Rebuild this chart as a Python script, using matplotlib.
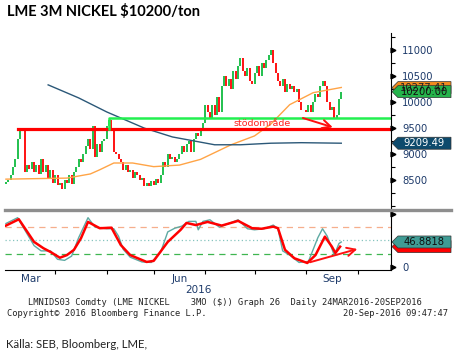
import matplotlib
matplotlib.use('Agg')
import matplotlib.pyplot as plt
from matplotlib.patches import Polygon
from matplotlib.lines import Line2D
from matplotlib.transforms import IdentityTransform

# LME 3M nickel, daily closes (trading days, 1 Mar 2016 .. 20 Sep 2016)
first_open = 8420
closes = [8470, 8500, 8600, 8750, 8900, 9300, 9480, 9450, 8650, 8800,
          8720, 8850, 8650, 8800, 8620, 8900, 8650, 8800, 8550, 8700,
          8450, 8600, 8400, 8450, 8330, 8500, 8450, 8600, 8420, 8650,
          8750, 8900, 8850, 9000, 9150, 9300, 9100, 9550, 8950, 9200,
          9050, 9250, 9300, 9550, 9650, 9500, 9050, 9000, 8900, 8850,
          8700, 8800, 8650, 8700, 8550, 8650, 8600, 8500, 8550, 8380,
          8450, 8380, 8480, 8400, 8520, 8450, 8600, 8850, 8750, 9000,
          8900, 8950, 8850, 8900, 9000, 9150, 9050, 9200, 9250, 9050,
          9300, 9400, 9350, 9500, 9600, 9950, 9800, 9700, 9950, 9750,
          10100, 9800, 10300, 10500, 10300, 10450, 10250, 10600, 10450, 10700,
          10850, 10600, 10500, 10650, 10400, 10350, 10550, 10700, 10500, 10750,
          10650, 10800, 10900, 11000, 10750, 10550, 10400, 10300, 10450, 10200,
          10350, 10250, 10300, 10200, 10250, 10000, 9850, 9850, 9800, 9950,
          9800, 10000, 10150, 10100, 10300, 10400, 10300, 10000, 9850, 9900,
          9700, 9750, 10050, 10200]

# moving averages
ma100_idx = [0, 26, 36, 40, 46, 54, 63, 74, 83, 96, 106, 113, 121, 131, 143]
ma100_val = [8520, 8540, 8620, 8700, 8830, 8830, 8760, 8790, 8900, 9180,
             9350, 9580, 9950, 10180, 10280]
ma200_idx = [18, 31, 43, 59, 71, 83, 89, 100, 113, 126, 143]
ma200_val = [10330, 10080, 9810, 9500, 9330, 9230, 9180, 9180, 9210, 9220, 9210]

# stochastics (lower panel)
slow_idx = [0, 5.5, 12, 16, 19, 23, 26, 29, 32, 35, 40, 45, 49, 53, 60, 63,
            69, 74.5, 77, 81, 86, 92, 99, 105, 109, 114, 116, 119, 123,
            128.5, 132, 136, 139, 140.5, 142.5]
slow_val = [78, 90, 47, 35, 28, 17, 22, 32, 54, 85, 73, 74, 41, 22, 9, 11,
            47, 70, 83, 79, 85, 78, 87, 73, 72, 76, 73, 32, 16,
            7, 22, 57, 38, 26, 38]
fast_idx = [0, 5, 8, 12, 15, 19, 22, 25, 28, 31, 35, 38, 43, 46, 48, 50, 53,
            58, 62, 66, 69, 72, 75, 78, 81, 82, 84, 87, 91, 95, 99, 103, 106,
            110, 114, 116, 118, 121, 125, 129, 133, 135, 137, 140, 142, 143]
fast_val = [82, 93, 70, 40, 30, 30, 14, 12, 20, 55, 93, 75, 72, 72, 58, 33, 18,
            9, 8, 28, 66, 73, 77, 86, 86, 70, 86, 89, 75, 82, 89, 72, 70,
            72, 79, 72, 30, 22, 8, 10, 55, 72, 58, 22, 44, 46.88]

month_starts = [21, 43, 63, 85, 106, 128, 150]
month_labels = ['Mar', 'Jun', 'Sep']
month_label_idx = [10.5, 74, 139]

red_support = 9480
green_support = 9690
price_ticks = [8500, 9000, 9500, 10000, 10500, 11000]
minor_ticks = [8000, 8250, 8750, 9250, 9750, 10250, 10750, 11250]

last_price = 10200.00
last_ma100 = 10277.41
last_ma200 = 9209.49
last_fast = 46.8818
last_slow = 38.10

W, H = 461, 358
fig = plt.figure(figsize=(W / 100, H / 100), dpi=100)


def fx(x):
    return x / W


def fy(y):
    return 1 - y / H


ax = fig.add_axes([fx(5), fy(208), fx(391) - fx(5), fy(33) - fy(208)])
ax2 = fig.add_axes([fx(5), fy(270), fx(391) - fx(5), fy(211) - fy(270)])

xmin, xmax = -0.4, 164.2
up_col, dn_col = '#10bb40', '#ff0000'

# price bars
prev = first_open
for i, c in enumerate(closes):
    col = up_col if c >= prev else dn_col
    ax.vlines(i, min(prev, c), max(prev, c), color=col, lw=1.3)
    prev = c

ax.plot(ma100_idx, ma100_val, color='#ffa446', lw=1.0)
ax.plot(ma200_idx, ma200_val, color='#2b5878', lw=1.0)

ax.plot([5, xmax], [red_support, red_support], color='#ff0000', lw=2.3)
ax.plot([44, 44, xmax], [red_support, green_support, green_support],
        color='#22f050', lw=1.8)
ax.text(97, red_support + 15, 'stödområde', color='#ff2020', fontsize=6.8,
        va='bottom', ha='left')
ax.annotate('', xy=(140.5, 9500), xytext=(125.5, 9710),
            arrowprops=dict(arrowstyle='->,head_length=0.6,head_width=0.3',
                            color='#ff1010', lw=1.4))

ax.set_xlim(xmin, xmax)
ax.set_ylim(7966, 11326)
ax.set_xticks([])
for s in ['left', 'top', 'bottom']:
    ax.spines[s].set_visible(False)
ax.spines['right'].set_linewidth(0.8)
ax.yaxis.tick_right()
ax.set_yticks(price_ticks)
ax.set_yticks(minor_ticks, minor=True)
ax.tick_params(axis='y', which='major', length=0, pad=8, labelsize=7.2,
               labelcolor='#1d3a6a')
ax.tick_params(axis='y', which='minor', length=3, width=0.8)
ax.plot([1.006] * len(price_ticks), price_ticks, ls='none', marker='>',
        ms=3.5, color='black', transform=ax.get_yaxis_transform(),
        clip_on=False)

# stochastics panel
ax2.axhline(75, color='#f6ae8c', lw=0.9, dashes=(5, 4))
ax2.axhline(50, color='#86c4bf', lw=0.9, dashes=(1, 2))
ax2.axhline(25, color='#3fb650', lw=0.9, dashes=(5, 4))
ax2.plot(fast_idx, fast_val, color='#5eaaa3', lw=1.0)
ax2.plot(slow_idx, slow_val, color='#ff0000', lw=1.8)
ax2.annotate('', xy=(151, 35), xytext=(128.5, 7),
             arrowprops=dict(arrowstyle='->,head_length=0.6,head_width=0.3',
                             color='#ff1010', lw=1.4))
ax2.set_xlim(xmin, xmax)
ax2.set_ylim(-6.3, 105.7)
ax2.spines['left'].set_visible(False)
ax2.spines['top'].set_visible(False)
ax2.spines['right'].set_linewidth(0.8)
ax2.spines['bottom'].set_linewidth(0.8)
ax2.set_xticks(month_starts)
ax2.set_xticklabels([])
ax2.tick_params(axis='x', length=3, width=0.8)
ax2.yaxis.tick_right()
ax2.set_yticks([0, 100])
ax2.set_yticklabels(['0', ''])
ax2.tick_params(axis='y', length=0, pad=8, labelsize=7.2, labelcolor='#1d3a6a')
ax2.plot([1.006, 1.006], [0, 100], ls='none', marker='>', ms=3.5,
         color='black', transform=ax2.get_yaxis_transform(), clip_on=False)
for lab, pos in zip(month_labels, month_label_idx):
    ax2.text(pos, -0.15, lab, transform=ax2.get_xaxis_transform(),
             ha='center', va='center', fontsize=7.5, color='#1d3a6a')
ax2.text(82, -0.34, '2016', transform=ax2.get_xaxis_transform(),
         ha='center', va='center', fontsize=7.5, color='#1d3a6a')

# separator between panels
fig.add_artist(Line2D([fx(5), fx(451)], [fy(209.5), fy(209.5)],
                      color='#8e8e8e', lw=2.4))


def tag(axis, value, text, face, tcol):
    y = axis.transData.transform((0, value))[1]
    pts = [(392, y), (398, y + 6), (451, y + 6), (451, y - 6), (398, y - 6)]
    fig.add_artist(Polygon(pts, closed=True, facecolor=face,
                           edgecolor='#333333', lw=0.5,
                           transform=IdentityTransform()))
    if text:
        fig.text(424, y, text, transform=IdentityTransform(), ha='center',
                 va='center', fontsize=7.2, color=tcol)


tag(ax, last_ma100, f'{last_ma100:.2f}', '#f08a1e', '#222222')
tag(ax, last_price, f'{last_price:.2f}', '#25b34b', '#101010')
tag(ax, last_ma200, f'{last_ma200:.2f}', '#0d4a6c', 'white')
tag(ax2, last_slow, '', '#ff0000', 'white')
tag(ax2, last_fast, f'{last_fast:.4f}', '#3f9c95', '#101010')

# texts
fig.text(fx(7), fy(11), 'LME 3M NICKEL $10200/ton', fontsize=10.5,
         fontweight='bold', family=['Lato', 'DejaVu Sans'],
         va='center', ha='left', color='black')
mono = ['DejaVu Sans Mono']
fig.text(fx(28), fy(302.5),
         'LMNIDS03 Comdty (LME NICKEL    3MO ($)) Graph 26  Daily 24MAR2016-20SEP2016',
         fontsize=6.3, family=mono, va='center', ha='left', color='#222222')
fig.text(fx(7), fy(313.5), 'Copyright\u00a9 2016 Bloomberg Finance L.P.',
         fontsize=6.3, family=mono, va='center', ha='left', color='#222222')
fig.text(fx(448), fy(313.5), '20-Sep-2016 09:47:47', fontsize=6.3,
         family=mono, va='center', ha='right', color='#222222')
fig.text(fx(6), fy(345), 'Källa: SEB, Bloomberg, LME,', fontsize=8.2,
         family=['Lato', 'DejaVu Sans'], va='center',
         ha='left', color='#222222')

fig.savefig('out.png', dpi=100)
